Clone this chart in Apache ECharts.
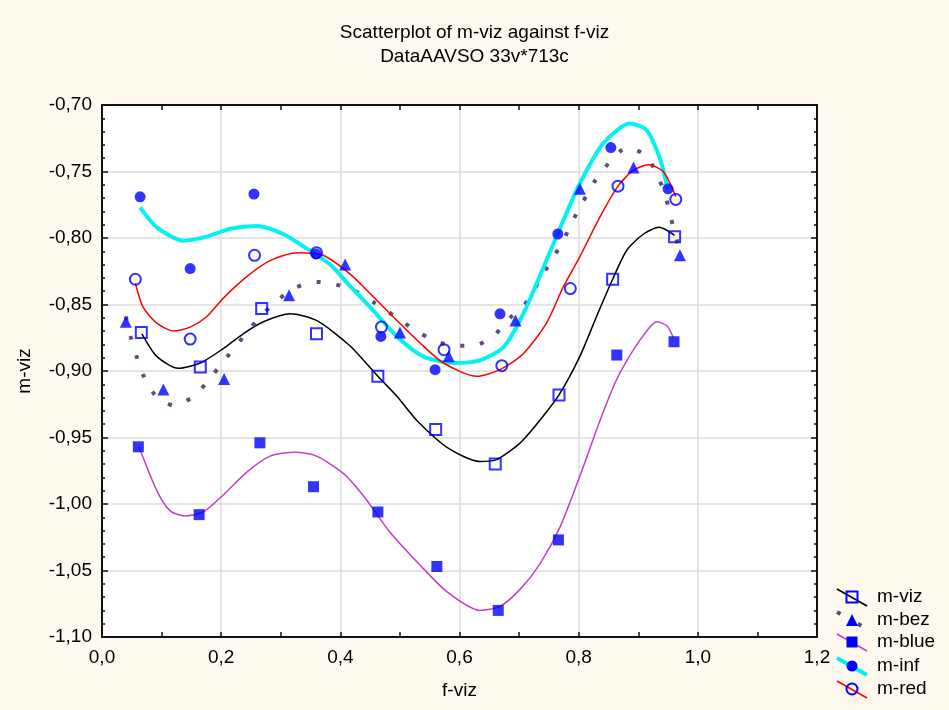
<!DOCTYPE html>
<html>
<head>
<meta charset="utf-8">
<script src="https://cdn.jsdelivr.net/npm/echarts@6/dist/echarts.min.js"></script>
<style>
  html, body { margin: 0; padding: 0; background: #FEF9EE; }
  #chart { width: 949px; height: 710px; }
</style>
</head>
<body>
<div id="chart"></div>
<script>
// Observed points (f-viz, m-viz) for each magnitude series
const vizF  = [0.066, 0.165, 0.268, 0.360, 0.463, 0.560, 0.660, 0.767, 0.857, 0.961];
const vizM  = [-0.871, -0.897, -0.853, -0.872, -0.904, -0.944, -0.970, -0.918, -0.831, -0.799];

const bezF  = [0.040, 0.103, 0.205, 0.314, 0.408, 0.500, 0.582, 0.694, 0.802, 0.892, 0.970];
const bezM  = [-0.863, -0.914, -0.906, -0.843, -0.820, -0.871, -0.889, -0.862, -0.763, -0.747, -0.813];

const blueF = [0.061, 0.163, 0.265, 0.355, 0.463, 0.562, 0.665, 0.766, 0.864, 0.960];
const blueM = [-0.957, -1.008, -0.954, -0.987, -1.006, -1.047, -1.080, -1.027, -0.888, -0.878];

const infF  = [0.064, 0.148, 0.255, 0.359, 0.468, 0.559, 0.668, 0.765, 0.854, 0.950];
const infM  = [-0.769, -0.823, -0.767, -0.812, -0.874, -0.899, -0.857, -0.797, -0.732, -0.763];

const redF  = [0.056, 0.148, 0.256, 0.360, 0.469, 0.574, 0.671, 0.786, 0.866, 0.963];
const redM  = [-0.831, -0.876, -0.813, -0.811, -0.867, -0.884, -0.896, -0.838, -0.761, -0.771];

// Fitted smoothing curves for each series
const vizFitF  = [0.067, 0.092, 0.128, 0.165, 0.204, 0.237, 0.271, 0.316, 0.360, 0.416, 0.463, 0.495, 0.528, 0.581, 0.634, 0.660, 0.702, 0.735, 0.767, 0.802, 0.830, 0.857, 0.881, 0.909, 0.935, 0.961];
const vizFitM  = [-0.872, -0.889, -0.898, -0.894, -0.883, -0.872, -0.863, -0.857, -0.862, -0.881, -0.904, -0.919, -0.937, -0.958, -0.968, -0.967, -0.954, -0.937, -0.918, -0.889, -0.859, -0.831, -0.809, -0.797, -0.792, -0.798];

const bezFitF  = [0.040, 0.048, 0.058, 0.069, 0.089, 0.121, 0.154, 0.184, 0.209, 0.236, 0.262, 0.294, 0.327, 0.360, 0.393, 0.425, 0.458, 0.492, 0.524, 0.557, 0.590, 0.623, 0.656, 0.685, 0.715, 0.734, 0.754, 0.773, 0.789, 0.807, 0.826, 0.850, 0.881, 0.913, 0.932, 0.945, 0.953, 0.962, 0.970];
const bezFitM  = [-0.859, -0.874, -0.889, -0.903, -0.918, -0.926, -0.919, -0.904, -0.890, -0.875, -0.861, -0.847, -0.837, -0.833, -0.835, -0.840, -0.849, -0.859, -0.869, -0.877, -0.881, -0.881, -0.874, -0.860, -0.847, -0.832, -0.817, -0.803, -0.788, -0.773, -0.758, -0.744, -0.732, -0.738, -0.753, -0.767, -0.782, -0.797, -0.811];

const blueFitF = [0.062, 0.092, 0.114, 0.139, 0.170, 0.204, 0.243, 0.282, 0.324, 0.360, 0.405, 0.439, 0.483, 0.534, 0.579, 0.634, 0.668, 0.702, 0.735, 0.769, 0.802, 0.836, 0.861, 0.881, 0.909, 0.931, 0.948, 0.959];
const blueFitM = [-0.957, -0.990, -1.005, -1.009, -1.006, -0.993, -0.976, -0.964, -0.961, -0.964, -0.977, -0.994, -1.021, -1.046, -1.066, -1.080, -1.077, -1.064, -1.045, -1.017, -0.979, -0.937, -0.909, -0.892, -0.873, -0.863, -0.866, -0.875];

const infFitF  = [0.064, 0.092, 0.137, 0.176, 0.215, 0.260, 0.304, 0.344, 0.383, 0.416, 0.450, 0.495, 0.539, 0.590, 0.634, 0.674, 0.707, 0.741, 0.774, 0.802, 0.841, 0.886, 0.914, 0.937, 0.949];
const infFitM  = [-0.777, -0.792, -0.802, -0.799, -0.793, -0.791, -0.797, -0.808, -0.820, -0.836, -0.852, -0.874, -0.889, -0.894, -0.892, -0.882, -0.857, -0.822, -0.787, -0.759, -0.729, -0.714, -0.719, -0.741, -0.763];

const redFitF  = [0.056, 0.069, 0.092, 0.120, 0.148, 0.176, 0.204, 0.243, 0.282, 0.327, 0.371, 0.416, 0.455, 0.495, 0.534, 0.573, 0.629, 0.668, 0.707, 0.746, 0.774, 0.802, 0.836, 0.866, 0.892, 0.917, 0.942, 0.963];
const redFitM  = [-0.834, -0.852, -0.864, -0.870, -0.867, -0.859, -0.845, -0.829, -0.817, -0.811, -0.813, -0.827, -0.844, -0.862, -0.879, -0.894, -0.904, -0.899, -0.887, -0.864, -0.837, -0.814, -0.784, -0.761, -0.749, -0.745, -0.750, -0.769];

const seriesNames = ['m-viz', 'm-bez', 'm-blue', 'm-inf', 'm-red'];

const FONT = 'Liberation Sans, Arial, Helvetica, sans-serif';
const MARK_BLUE = '#0000FF';

const zip = (xs, ys) => xs.map((x, i) => [x, ys[i]]);

// Visual style of each series: marker + fitted-curve stroke
const styles = [
  { pts: zip(vizF, vizM),   fit: zip(vizFitF, vizFitM),   symbol: 'rect',     size: 11, hollow: true,
    line: { color: '#000000', width: 1.5, type: 'solid' } },
  { pts: zip(bezF, bezM),   fit: zip(bezFitF, bezFitM),   symbol: 'triangle', size: 12, hollow: false,
    line: { color: '#5B4E7C', width: 4, type: [4, 16] } },
  { pts: zip(blueF, blueM), fit: zip(blueFitF, blueFitM), symbol: 'rect',     size: 11, hollow: false,
    line: { color: '#C040C8', width: 1.5, type: 'solid' } },
  { pts: zip(infF, infM),   fit: zip(infFitF, infFitM),   symbol: 'circle',   size: 11, hollow: false,
    line: { color: '#00F2F2', width: 4, type: 'solid' } },
  { pts: zip(redF, redM),   fit: zip(redFitF, redFitM),   symbol: 'circle',   size: 11, hollow: true,
    line: { color: '#FF0000', width: 1.5, type: 'solid' } }
];

const series = [];
styles.forEach((s, i) => {
  series.push({
    name: seriesNames[i] + ' fit',
    type: 'line',
    data: s.fit,
    smooth: 0.25,
    showSymbol: false,
    silent: true,
    z: 2,
    lineStyle: { color: s.line.color, width: s.line.width, type: s.line.type, cap: 'butt' }
  });
});
styles.forEach((s, i) => {
  series.push({
    name: seriesNames[i],
    type: 'scatter',
    data: s.pts,
    symbol: s.symbol,
    symbolSize: s.size,
    z: 5,
    itemStyle: s.hollow
      ? { color: 'rgba(0,0,0,0)', borderColor: MARK_BLUE, borderWidth: 2 }
      : { color: MARK_BLUE }
  });
});

// Legend drawn as graphic entries: slanted stroke through the marker, then the name
function legendEntry(i, cy) {
  const s = styles[i];
  const x1 = 837, x2 = 867, y1 = cy - 8, y2 = cy + 9;
  const items = [];
  items.push({
    type: 'line',
    shape: { x1: x1, y1: y1, x2: x2, y2: y2 },
    style: { stroke: s.line.color, lineWidth: s.line.width,
             lineDash: Array.isArray(s.line.type) ? [4, 20] : null }
  });
  const mx = 852, my = cy;
  const half = s.size / 2;
  const markStyle = s.hollow
    ? { fill: 'rgba(0,0,0,0)', stroke: MARK_BLUE, lineWidth: 2 }
    : { fill: MARK_BLUE };
  if (s.symbol === 'rect') {
    items.push({ type: 'rect', shape: { x: mx - half, y: my - half, width: s.size, height: s.size }, style: markStyle });
  } else if (s.symbol === 'circle') {
    items.push({ type: 'circle', shape: { cx: mx, cy: my, r: half }, style: markStyle });
  } else {
    items.push({ type: 'polygon', shape: { points: [[mx, my - half], [mx + half, my + half], [mx - half, my + half]] }, style: markStyle });
  }
  items.push({
    type: 'text',
    x: 877, y: cy,
    style: { text: seriesNames[i], fill: '#000', font: '19px ' + FONT, textVerticalAlign: 'middle', verticalAlign: 'middle' }
  });
  return { type: 'group', children: items };
}
const legendRows = [597, 620, 642, 666, 689];

const fmtY = v => v.toFixed(2).replace('.', ',');
const fmtX = v => v.toFixed(1).replace('.', ',');

const frame = { show: true, onZero: false, lineStyle: { color: '#111', width: 2 } };

const option = {
  backgroundColor: '#FEF9EE',
  animation: false,
  textStyle: { fontFamily: FONT },
  title: {
    text: 'Scatterplot of m-viz against f-viz\nDataAAVSO 33v*713c',
    left: 'center',
    top: 16,
    textStyle: { fontSize: 19, fontWeight: 'normal', color: '#000', lineHeight: 24, fontFamily: FONT }
  },
  grid: {
    left: 102, right: 132, top: 105, bottom: 73,
    show: true, backgroundColor: '#FFFFFF', borderWidth: 0
  },
  xAxis: [
    {
      type: 'value', min: 0, max: 1.2, interval: 0.2, position: 'bottom',
      name: 'f-viz', nameLocation: 'middle', nameGap: 44,
      nameTextStyle: { fontSize: 19, color: '#000', fontFamily: FONT },
      axisLine: frame,
      axisTick: { show: true, inside: true, length: 5, lineStyle: { color: '#111', width: 1.5 } },
      minorTick: { show: true, splitNumber: 2, length: 5, lineStyle: { color: '#111', width: 1.5 } },
      axisLabel: { fontSize: 19, color: '#000', margin: 11, formatter: fmtX, fontFamily: FONT },
      splitLine: { show: true, lineStyle: { color: '#DCDCDC', width: 1.5 } }
    },
    {
      type: 'value', min: 0, max: 1.2, interval: 0.2, position: 'top',
      axisLine: frame,
      axisTick: { show: true, inside: true, length: 5, lineStyle: { color: '#111', width: 1.5 } },
      minorTick: { show: true, splitNumber: 2, length: 5, lineStyle: { color: '#111', width: 1.5 } },
      axisLabel: { show: false },
      splitLine: { show: false }
    }
  ],
  yAxis: [
    {
      type: 'value', min: -1.1, max: -0.7, interval: 0.05, position: 'left',
      name: 'm-viz', nameLocation: 'middle', nameGap: 68,
      nameTextStyle: { fontSize: 19, color: '#000', fontFamily: FONT },
      axisLine: frame,
      axisTick: { show: true, inside: true, length: 6, lineStyle: { color: '#111', width: 1.5 } },
      minorTick: { show: true, splitNumber: 5, length: 3, lineStyle: { color: '#111', width: 1.5 } },
      axisLabel: { fontSize: 19, color: '#000', margin: 10, formatter: fmtY, fontFamily: FONT },
      splitLine: { show: true, lineStyle: { color: '#DCDCDC', width: 1.5 } }
    },
    {
      type: 'value', min: -1.1, max: -0.7, interval: 0.05, position: 'right',
      axisLine: frame,
      axisTick: { show: true, inside: true, length: 6, lineStyle: { color: '#111', width: 1.5 } },
      minorTick: { show: true, splitNumber: 5, length: 3, lineStyle: { color: '#111', width: 1.5 } },
      axisLabel: { show: false },
      splitLine: { show: false }
    }
  ],
  graphic: legendRows.map((cy, i) => legendEntry(i, cy)),
  series: series
};

const chart = echarts.init(document.getElementById('chart'), null, { renderer: 'canvas' });
chart.setOption(option);
</script>
</body>
</html>
